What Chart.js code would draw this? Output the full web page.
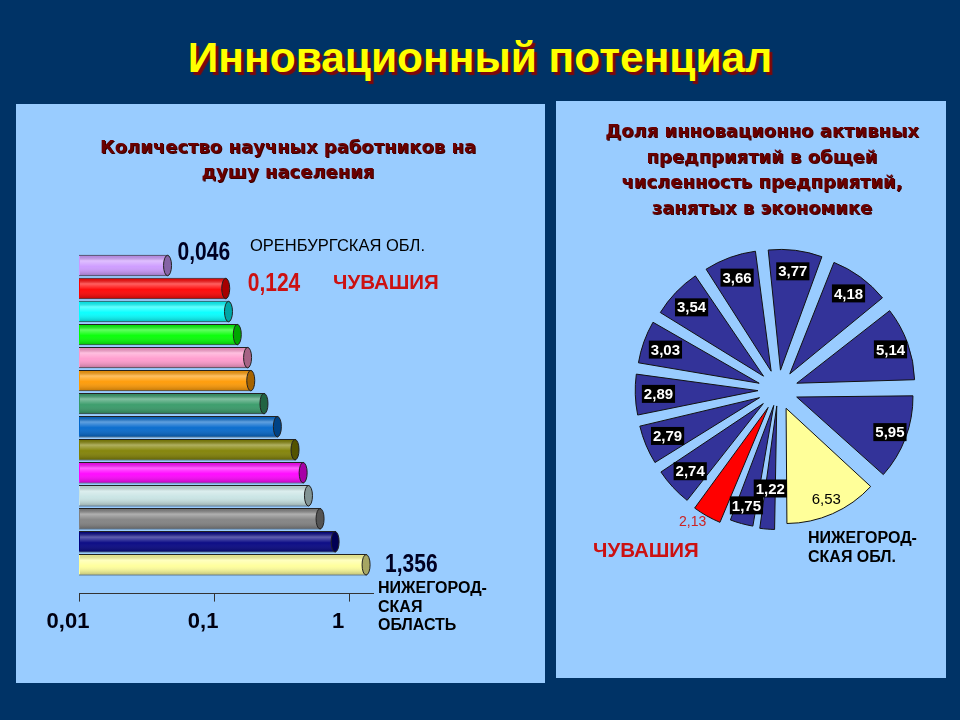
<!DOCTYPE html>
<html><head><meta charset="utf-8">
<script src="https://cdn.jsdelivr.net/npm/chart.js@4.4.0/dist/chart.umd.min.js"></script>
<style>
html,body{margin:0;padding:0;}
body{width:960px;height:720px;background:#003366;position:relative;overflow:hidden;font-family:"Liberation Sans",Arial,sans-serif;}
.abs{position:absolute;white-space:nowrap;}
#title{left:0;width:960px;top:30px;text-align:center;font-weight:bold;font-size:42.5px;color:#ffff00;text-shadow:3px 3px 1px #800808;line-height:56px;}
.panel{position:absolute;background:#99ccff;}
.panel canvas{display:block;}
.ptitle{color:#6a0000;font-family:"DejaVu Sans","Liberation Sans",sans-serif;font-weight:bold;font-size:18px;text-align:center;text-shadow:1px 1px 0 #3a0000;}
.note{color:#000;font-size:16.5px;}
.bold{font-weight:bold;}
.red{color:#cc1111;}
</style></head>
<body>
<div id="title" class="abs">Инновационный потенциал</div>
<div class="panel" style="left:16px;top:104px;width:529px;height:579px"><canvas id="bar" width="529" height="579"></canvas></div>
<div class="panel" style="left:556px;top:101px;width:390px;height:577px"><canvas id="pie" width="390" height="577"></canvas></div>

<div class="abs ptitle" style="left:88px;width:400px;top:134px;line-height:25px">Количество научных работников на<br>душу населения</div>
<div class="abs ptitle" style="left:562px;width:400px;top:118px;line-height:25.7px">Доля инновационно активных<br>предприятий в общей<br>численность предприятий,<br>занятых в экономике</div>

<div class="abs note" style="left:250px;top:235px;line-height:20px">ОРЕНБУРГСКАЯ ОБЛ.</div>
<div class="abs note bold red" style="left:333px;top:271px;line-height:22px;font-size:20.5px">ЧУВАШИЯ</div>
<div class="abs note bold" style="left:378px;top:579px;line-height:18.5px;font-size:16px">НИЖЕГОРОД-<br>СКАЯ<br>ОБЛАСТЬ</div>
<div class="abs note bold red" style="left:593px;top:539px;line-height:22px;font-size:20.5px">ЧУВАШИЯ</div>
<div class="abs note bold" style="left:808px;top:528px;line-height:19px;font-size:16px">НИЖЕГОРОД-<br>СКАЯ ОБЛ.</div>

<script>
// ---------- data: bar chart (scientific workers per capita, log scale) ----------
const barCategories = ['Оренбургская обл.', 'Чувашия', 'Регион 3', 'Регион 4', 'Регион 5', 'Регион 6', 'Регион 7',
  'Регион 8', 'Регион 9', 'Регион 10', 'Регион 11', 'Регион 12', 'Регион 13', 'Нижегородская область'];
const barValues = [0.046, 0.124, 0.13, 0.151, 0.18, 0.19, 0.238, 0.299, 0.404, 0.464, 0.508, 0.619, 0.8, 1.356];
const barColors = ['#cc99ff', '#ff0000', '#00ffff', '#00ff00', '#ff99cc', '#ff9900', '#339966',
  '#0066cc', '#808000', '#ff00ff', '#c8e4e4', '#808080', '#000080', '#ffff99'];
const barTickValues = [0.01, 0.1, 1];
const barLabelledIndices = [0, 1, 13];

// ---------- data: pie chart (share of innovation-active enterprises, %) ----------
const pieCategories = ['Регион 1', 'Регион 2', 'Чувашия', 'Регион 4', 'Регион 5', 'Регион 6', 'Регион 7',
  'Регион 8', 'Регион 9', 'Регион 10', 'Регион 11', 'Регион 12', 'Регион 13', 'Нижегородская обл.'];
const pieValues = [1.22, 1.75, 2.13, 2.74, 2.79, 2.89, 3.03, 3.54, 3.66, 3.77, 4.18, 5.14, 5.95, 6.53];
const pieColors = ['#333399', '#333399', '#ff0000', '#333399', '#333399', '#333399', '#333399',
  '#333399', '#333399', '#333399', '#333399', '#333399', '#333399', '#ffff99'];

const fmt = v => String(v).replace('.', ',');
const SANS = '"Liberation Sans",Arial,sans-serif';

function darken(hex, f) {
  const n = parseInt(hex.slice(1), 16);
  const r = Math.round(((n >> 16) & 255) * f), g = Math.round(((n >> 8) & 255) * f), b = Math.round((n & 255) * f);
  return `rgb(${r},${g},${b})`;
}

// cylinder shading + end caps + value labels for bars
const barDecor = {
  id: 'barDecor',
  afterDatasetsDraw(chart) {
    const ctx = chart.ctx;
    const meta = chart.getDatasetMeta(0);
    meta.data.forEach((el, i) => {
      const p = el.getProps(['x', 'y', 'base', 'height'], true);
      const top = p.y - p.height / 2;
      const g = ctx.createLinearGradient(0, top, 0, top + p.height);
      g.addColorStop(0, 'rgba(0,0,0,0.10)');
      g.addColorStop(0.28, 'rgba(255,255,255,0.38)');
      g.addColorStop(0.55, 'rgba(255,255,255,0.05)');
      g.addColorStop(1, 'rgba(0,0,0,0.28)');
      ctx.save();
      ctx.fillStyle = g;
      ctx.fillRect(p.base + 1, top + 1, p.x - p.base - 2, p.height - 2);
      ctx.beginPath();
      ctx.ellipse(p.x - 1, p.y, 4, p.height / 2 - 0.5, 0, 0, Math.PI * 2);
      ctx.fillStyle = darken(barColors[i], 0.65);
      ctx.fill();
      ctx.lineWidth = 1;
      ctx.strokeStyle = '#222';
      ctx.stroke();
      ctx.restore();
    });
    const place = {0: [9, -12, '#000022'], 1: [21, -4, '#cc1111'], 13: [18, 0, '#000022']};
    barLabelledIndices.forEach(i => {
      const el = meta.data[i];
      const [dx, dy, col] = place[i];
      ctx.save();
      ctx.translate(el.x + dx, el.y + dy);
      ctx.scale(0.84, 1);
      ctx.font = 'bold 25px ' + SANS;
      ctx.textBaseline = 'middle';
      ctx.textAlign = 'left';
      ctx.fillStyle = col;
      ctx.fillText(fmt(barValues[i]), 0, 0);
      ctx.restore();
    });
  }
};

new Chart(document.getElementById('bar'), {
  type: 'bar',
  data: {
    labels: barCategories,
    datasets: [{
      data: barValues.map((v, i) => ({x: v, y: i})),
      backgroundColor: barColors,
      borderColor: '#222',
      borderWidth: 1,
      categoryPercentage: 1,
      barPercentage: 0.93
    }]
  },
  options: {
    indexAxis: 'y',
    responsive: false,
    animation: false,
    layout: {padding: {left: 63, right: 172, top: 150, bottom: 41}},
    plugins: {legend: {display: false}, tooltip: {enabled: false}},
    scales: {
      x: {
        type: 'logarithmic', min: 0.01, max: 1.5,
        afterBuildTicks: s => { s.ticks = barTickValues.map(v => ({value: v})); },
        grid: {display: true, drawOnChartArea: false, drawTicks: true, tickLength: 8, color: '#333'},
        border: {display: true, color: '#333', width: 1},
        ticks: {
          font: {family: SANS, size: 22, weight: 'bold'}, color: '#000011', padding: 7, labelOffset: -11,
          maxRotation: 0, autoSkip: false, callback: v => fmt(v)
        }
      },
      y: {
        type: 'linear', display: false, reverse: true, offset: false, bounds: 'data', min: -0.5, max: 14.25,
        afterBuildTicks: s => { s.ticks = barValues.map((v, i) => ({value: i})); }
      }
    }
  },
  plugins: [barDecor]
});

// value labels for pie slices
const pieDecor = {
  id: 'pieDecor',
  afterDatasetsDraw(chart) {
    const ctx = chart.ctx;
    const meta = chart.getDatasetMeta(0);
    const CHUV = 2, NIZH = 13, THIN = 0;
    ctx.save();
    ctx.textAlign = 'center';
    ctx.textBaseline = 'middle';
    meta.data.forEach((el, i) => {
      const t = 20;
      let mid = (el.startAngle + el.endAngle) / 2;
      const R = el.outerRadius + t;
      let d = R * 0.92;
      if (i === THIN) d = R * 0.76;
      if (i === CHUV) { d = R * 1.21; mid += 0.06; }
      const x = el.x + Math.cos(mid) * d, y = el.y + Math.sin(mid) * d;
      const txt = pieValues[i].toFixed(2).replace('.', ',');
      if (i === CHUV) {
        ctx.font = '14px ' + SANS;
        ctx.fillStyle = '#cc2222';
        ctx.fillText(txt, x, y);
      } else if (i === NIZH) {
        ctx.font = '15px ' + SANS;
        ctx.fillStyle = '#000';
        ctx.fillText(txt, x, y);
      } else {
        ctx.font = 'bold 15px ' + SANS;
        const w = ctx.measureText(txt).width;
        ctx.fillStyle = '#000';
        ctx.fillRect(x - w / 2 - 2, y - 9, w + 4, 18);
        ctx.fillStyle = '#fff';
        ctx.fillText(txt, x, y + 1);
      }
    });
    ctx.restore();
  }
};

new Chart(document.getElementById('pie'), {
  type: 'pie',
  data: {
    labels: pieCategories,
    datasets: [{
      data: pieValues,
      backgroundColor: pieColors,
      borderColor: '#111',
      borderWidth: 1,
      offset: c => (c.dataIndex < 2 ? 64 : 80),
      radius: 110
    }]
  },
  options: {
    responsive: false,
    animation: false,
    rotation: 180,
    layout: {padding: {left: 72, right: 18, top: 139, bottom: 138}},
    plugins: {legend: {display: false}, tooltip: {enabled: false}}
  },
  plugins: [pieDecor]
});
</script>
</body></html>
